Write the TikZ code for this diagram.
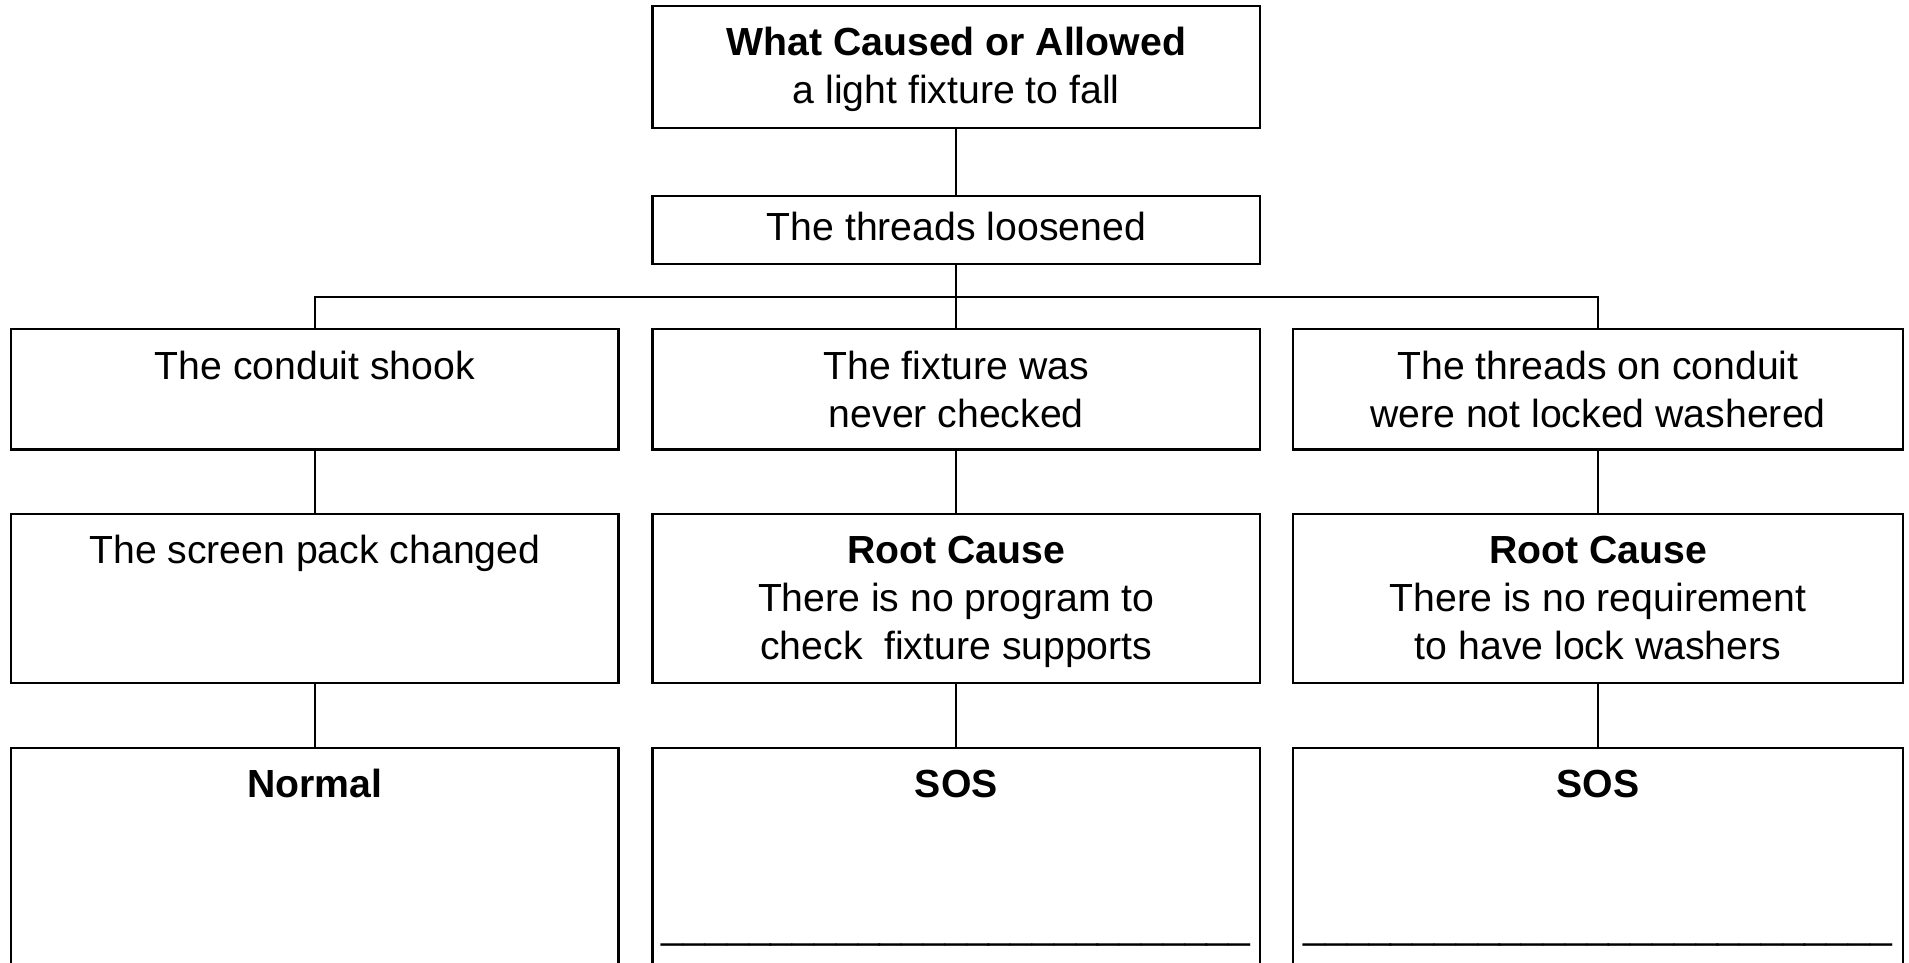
\documentclass[tikz,border=0pt]{standalone}
\usepackage{fontspec}
\setmainfont{Liberation Sans}
\begin{document}
\begin{tikzpicture}[x=1pt,y=-1pt,
  box/.style={draw, line width=2.5pt, inner sep=0pt, minimum width=607.5pt},
  txt/.style={anchor=north, inner sep=0pt, align=center, font=\fontsize{39.2}{48}\selectfont},
  conn/.style={line width=2.2pt}]
\useasboundingbox (0,0) rectangle (1909,963);
\clip (0,0) rectangle (1909,963);
\fill[white] (0,0) rectangle (1909,963);
% boxes
\node[box, minimum height=122pt] (top) at (956.3,67) {};
\node[box, minimum height=68pt] (thr) at (956.3,230) {};
\node[box, minimum height=120.5pt] (l1) at (314.8,389.3) {};
\node[box, minimum height=120.5pt] (m1) at (956.3,389.3) {};
\node[box, minimum height=120.5pt, minimum width=610pt] (r1) at (1598,389.3) {};
\node[box, minimum height=169pt] (l2) at (314.8,598.5) {};
\node[box, minimum height=169pt] (m2) at (956.3,598.5) {};
\node[box, minimum height=169pt, minimum width=610pt] (r2) at (1598,598.5) {};
\node[box, minimum height=302pt] (l3) at (314.8,899) {};
\node[box, minimum height=302pt] (m3) at (956.3,899) {};
\node[box, minimum height=302pt, minimum width=610pt] (r3) at (1598,899) {};
% texts
\node[txt] (ttop) at (956.3,21.4) {\strut\textbf{What Caused or Allowed}\\\strut a light fixture to fall};
\node[txt] (tthr) at (956.3,206.4) {\strut The threads loosened};
\node[txt] (tl1) at (314.8,345.4) {\strut The conduit shook};
\node[txt] (tm1) at (956.3,345.4) {\strut The fixture was\\\strut never checked};
\node[txt] (tr1) at (1598,345.4) {\strut The threads on conduit\\\strut were not locked washered};
\node[txt] (tl2) at (314.8,529.4) {\strut The screen pack changed};
\node[txt] (tm2) at (956.3,529.4) {\strut\textbf{Root Cause}\\\strut There is no program to\\\strut check~ fixture supports};
\node[txt] (tr2) at (1598,529.4) {\strut\textbf{Root Cause}\\\strut There is no requirement\\\strut to have lock washers};
\node[txt] (tl3) at (314.8,763.4) {\strut\textbf{Normal}};
\node[txt] (tm3) at (956.3,763.4) {\strut\textbf{SOS}};
\node[txt] (tr3) at (1598,763.4) {\strut\textbf{SOS}};
\node[txt] (um3) at (956.3,904.4) {\strut\_\_\_\_\_\_\_\_\_\_\_\_\_\_\_\_\_\_\_\_\_\_\_\_\_\_\_};
\node[txt] (ur3) at (1598,904.4) {\strut\_\_\_\_\_\_\_\_\_\_\_\_\_\_\_\_\_\_\_\_\_\_\_\_\_\_\_};
% connectors
\coordinate (bus) at (956.3,297);
\draw[conn] (top.south) -- (thr.north);
\draw[conn] (thr.south) -- (m1.north);
\draw[conn] (l1.north) -- (l1.north |- bus) -- (r1.north |- bus) -- (r1.north);
\draw[conn] (l1.south) -- (l2.north);
\draw[conn] (m1.south) -- (m2.north);
\draw[conn] (r1.south) -- (r2.north);
\draw[conn] (l2.south) -- (l3.north);
\draw[conn] (m2.south) -- (m3.north);
\draw[conn] (r2.south) -- (r3.north);
\end{tikzpicture}
\end{document}
